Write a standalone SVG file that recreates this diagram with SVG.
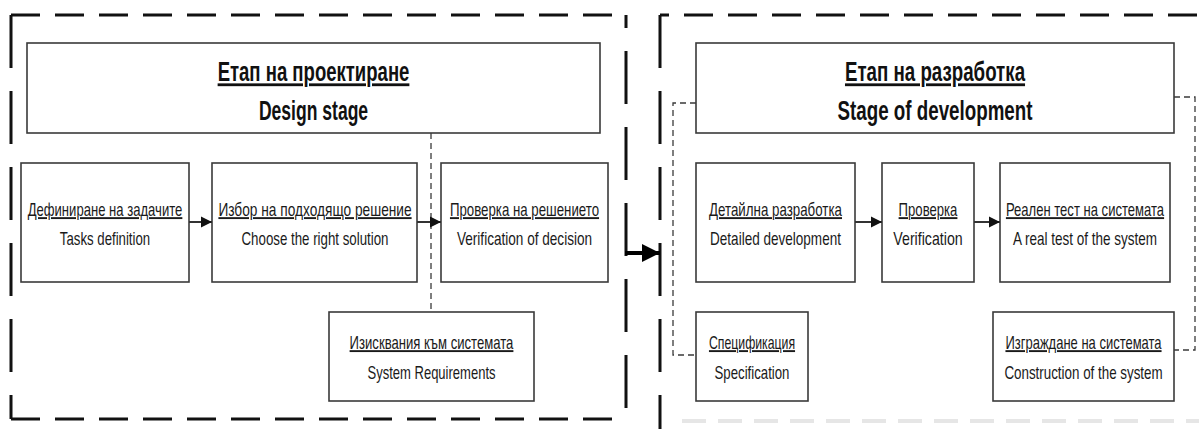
<svg xmlns="http://www.w3.org/2000/svg" width="1199" height="429" viewBox="0 0 1199 429">
<style>
.frame{fill:none;stroke:#111;stroke-width:3}
.fh{stroke-dasharray:29 15}
.fv{stroke-dasharray:53 23}
.box{fill:#fff;stroke:#3a3a3a;stroke-width:1.6}
.title{font-family:"Liberation Sans",Arial,sans-serif;font-weight:bold;font-size:28px;fill:#111;text-anchor:middle}
.t{font-family:"Liberation Sans",Arial,sans-serif;font-size:19px;fill:#1a1a1a;text-anchor:middle}
.u{text-decoration:underline}
.dash{fill:none;stroke:#3a3a3a;stroke-width:1.3;stroke-dasharray:6 4}
.arr{fill:none;stroke:#333;stroke-width:2}
</style>
<defs>
<marker id="ah" viewBox="0 0 10 10" refX="10" refY="5" markerWidth="11" markerHeight="12" markerUnits="userSpaceOnUse" orient="auto">
<path d="M0,0 L10,5 L0,10 z" fill="#111"/>
</marker>
<marker id="ahb" viewBox="0 0 10 10" refX="10" refY="5" markerWidth="18" markerHeight="20" markerUnits="userSpaceOnUse" orient="auto">
<path d="M0,0 L10,5 L0,10 z" fill="#000"/>
</marker>
</defs>

<g id="frames">
<line class="frame fh" x1="11" y1="15" x2="626" y2="15"/>
<line class="frame fv" x1="11" y1="15" x2="11" y2="419"/>
<line class="frame fv" x1="626" y1="15" x2="626" y2="419" stroke-dashoffset="40"/>
<line class="frame fh" x1="11" y1="419" x2="626" y2="419"/>
<line class="frame fh" x1="660" y1="15" x2="1199" y2="15" stroke-dashoffset="20"/>
<line class="frame fv" x1="660" y1="15" x2="660" y2="429"/>
<line x1="682" y1="421" x2="1199" y2="421" stroke="#e6e6e6" stroke-width="4" stroke-dasharray="24 12"/>
</g>

<g id="design-title">
<rect class="box" x="27" y="43" width="573" height="90"/>
<text class="title u" transform="translate(313.5,81) scale(0.65,1)" x="0" y="0" textLength="295" lengthAdjust="spacingAndGlyphs">Етап на проектиране</text>
<text class="title" transform="translate(313.5,120) scale(0.65,1)" x="0" y="0" textLength="168" lengthAdjust="spacingAndGlyphs">Design stage</text>
</g>

<g id="tasks">
<rect class="box" x="21" y="163" width="168" height="119"/>
<text class="t u" transform="translate(105,216) scale(0.7,1)" x="0" y="0" textLength="221" lengthAdjust="spacingAndGlyphs">Дефиниране на задачите</text>
<text class="t" transform="translate(105,245) scale(0.7,1)" x="0" y="0" textLength="129" lengthAdjust="spacingAndGlyphs">Tasks definition</text>
</g>

<g id="choose">
<rect class="box" x="212" y="163" width="205" height="119"/>
<text class="t u" transform="translate(315,216) scale(0.7,1)" x="0" y="0" textLength="276" lengthAdjust="spacingAndGlyphs">Избор на подходящо решение</text>
<text class="t" transform="translate(315,245) scale(0.7,1)" x="0" y="0" textLength="210" lengthAdjust="spacingAndGlyphs">Choose the right solution</text>
</g>

<g id="verify-decision">
<rect class="box" x="441" y="163" width="167" height="119"/>
<text class="t u" transform="translate(524.5,216) scale(0.7,1)" x="0" y="0" textLength="213" lengthAdjust="spacingAndGlyphs">Проверка на решението</text>
<text class="t" transform="translate(524.5,245) scale(0.7,1)" x="0" y="0" textLength="193" lengthAdjust="spacingAndGlyphs">Verification of decision</text>
</g>

<g id="requirements">
<rect class="box" x="329" y="312" width="205" height="89"/>
<text class="t u" transform="translate(431.5,349) scale(0.7,1)" x="0" y="0" textLength="234" lengthAdjust="spacingAndGlyphs">Изисквания към системата</text>
<text class="t" transform="translate(431.5,379) scale(0.7,1)" x="0" y="0" textLength="183" lengthAdjust="spacingAndGlyphs">System Requirements</text>
</g>

<g id="dev-title">
<rect class="box" x="696" y="43" width="478" height="90"/>
<text class="title u" transform="translate(935,81) scale(0.65,1)" x="0" y="0" textLength="277" lengthAdjust="spacingAndGlyphs">Етап на разработка</text>
<text class="title" transform="translate(935,120) scale(0.65,1)" x="0" y="0" textLength="300" lengthAdjust="spacingAndGlyphs">Stage of development</text>
</g>

<g id="detailed">
<rect class="box" x="696" y="163" width="159" height="119"/>
<text class="t u" transform="translate(775.5,216) scale(0.7,1)" x="0" y="0" textLength="190" lengthAdjust="spacingAndGlyphs">Детайлна разработка</text>
<text class="t" transform="translate(775.5,245) scale(0.7,1)" x="0" y="0" textLength="187" lengthAdjust="spacingAndGlyphs">Detailed development</text>
</g>

<g id="verification">
<rect class="box" x="882" y="163" width="92" height="119"/>
<text class="t u" transform="translate(928,216) scale(0.7,1)" x="0" y="0" textLength="84" lengthAdjust="spacingAndGlyphs">Проверка</text>
<text class="t" transform="translate(928,245) scale(0.7,1)" x="0" y="0" textLength="99" lengthAdjust="spacingAndGlyphs">Verification</text>
</g>

<g id="real-test">
<rect class="box" x="1000" y="163" width="170" height="119"/>
<text class="t u" transform="translate(1085,216) scale(0.7,1)" x="0" y="0" textLength="226" lengthAdjust="spacingAndGlyphs">Реален тест на системата</text>
<text class="t" transform="translate(1085,245) scale(0.7,1)" x="0" y="0" textLength="206" lengthAdjust="spacingAndGlyphs">A real test of the system</text>
</g>

<g id="specification">
<rect class="box" x="696" y="312" width="112" height="89"/>
<text class="t u" transform="translate(752,349) scale(0.7,1)" x="0" y="0" textLength="123" lengthAdjust="spacingAndGlyphs">Спецификация</text>
<text class="t" transform="translate(752,379) scale(0.7,1)" x="0" y="0" textLength="107" lengthAdjust="spacingAndGlyphs">Specification</text>
</g>

<g id="construction">
<rect class="box" x="993" y="312" width="181" height="89"/>
<text class="t u" transform="translate(1083.5,349) scale(0.7,1)" x="0" y="0" textLength="223" lengthAdjust="spacingAndGlyphs">Изграждане на системата</text>
<text class="t" transform="translate(1083.5,379) scale(0.7,1)" x="0" y="0" textLength="226" lengthAdjust="spacingAndGlyphs">Construction of the system</text>
</g>

<g id="connectors">
<line class="dash" x1="431" y1="133" x2="431" y2="312"/>
<polyline class="dash" points="696,103 673,103 673,355 696,355"/>
<polyline class="dash" points="1174,97 1195,97 1195,350 1174,350"/>
<line class="arr" x1="189" y1="222" x2="212" y2="222" marker-end="url(#ah)"/>
<line class="arr" x1="417" y1="222" x2="441" y2="222" marker-end="url(#ah)"/>
<line class="arr" x1="855" y1="222" x2="882" y2="222" marker-end="url(#ah)"/>
<line class="arr" x1="974" y1="222" x2="1000" y2="222" marker-end="url(#ah)"/>
<line x1="625" y1="253" x2="660" y2="253" stroke="#000" stroke-width="4" marker-end="url(#ahb)"/>
</g>
</svg>
